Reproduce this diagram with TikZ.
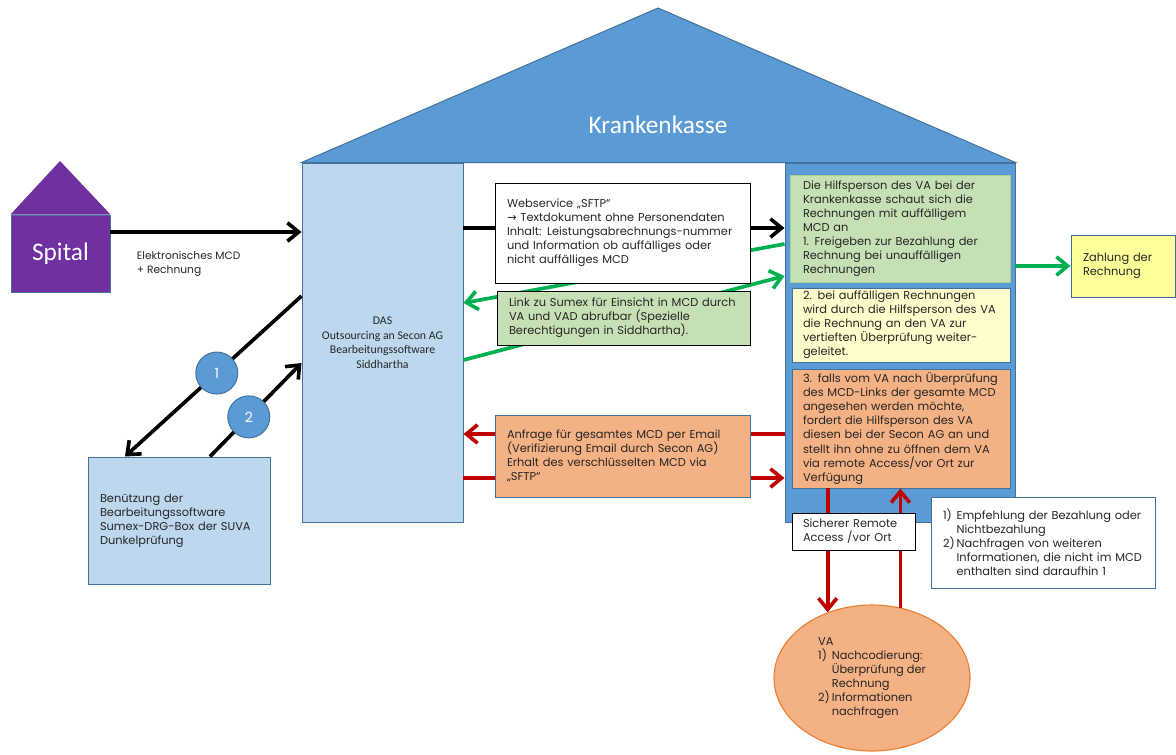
\documentclass[tikz,border=0pt]{standalone}
\usepackage{fontspec}
\setmainfont{Carlito}
\newfontfamily\gothic{Poppins}
\newfontfamily\symfont{DejaVu Sans}
\usetikzlibrary{positioning,calc,arrows.meta,shapes.geometric}
\definecolor{kkblue}{HTML}{5B9BD5}
\definecolor{kkline}{HTML}{41719C}
\definecolor{paleblue}{HTML}{BDD7EE}
\definecolor{spitalpurple}{HTML}{7030A0}
\definecolor{palegreen}{HTML}{C5E0B4}
\definecolor{greenline}{HTML}{A9D18E}
\definecolor{paleyellow}{HTML}{FFFDCC}
\definecolor{payyellow}{HTML}{FFFF99}
\definecolor{paleorange}{HTML}{F4B183}
\definecolor{orangeline}{HTML}{ED7D31}
\definecolor{arrowgreen}{HTML}{00B050}
\definecolor{arrowred}{HTML}{C00000}
\newcommand{\itemnum}[1]{\makebox[1.2em][l]{#1}}
\newcommand{\itemcont}{\hspace*{1.2em}}

\begin{document}
\begin{tikzpicture}[
  house/.style={draw=kkline, line width=0.7pt, inner sep=0pt},
  txt/.style={rectangle, line width=0.7pt, inner ysep=0pt, inner xsep=0.3cm,
              align=left, text=black!85, font=\gothic\fontsize{8.1}{10}\selectfont},
  whitebox/.style={txt, draw=black, fill=white},
  numcircle/.style={circle, fill=kkblue, draw=kkline, line width=0.7pt,
                    minimum size=1.05cm, inner sep=0pt, text=white,
                    font=\gothic\fontsize{10}{12}\selectfont},
  blackarrow/.style={line width=2.6pt, black, -{Straight Barb[length=2.8mm, width=4.6mm]}},
  greenarrow/.style={blackarrow, arrowgreen},
  redarrow/.style={blackarrow, arrowred},
]
\useasboundingbox (0,0) rectangle (29.4,-18.875);

% Spital
\node[house, fill=spitalpurple, minimum width=2.475cm, minimum height=1.925cm,
      text=white, font=\fontsize{18}{20}\selectfont] (spital) at (1.5125,-6.3375) {Spital};
\fill[spitalpurple] (spital.north west) -- (1.5,-4.025) -- (spital.north east) -- cycle;

% Krankenkasse: left wall (DAS), right column, roof
\node[house, fill=paleblue, minimum width=4.025cm, minimum height=8.975cm, align=center,
      text=black!85, font=\fontsize{8.4}{10.3}\selectfont] (das) at (9.5625,-8.5625)
  {DAS\\Outsourcing an Secon AG\\Bearbeitungssoftware\\Siddhartha};
\node[house, fill=kkblue, minimum width=5.75cm, minimum height=8.975cm] (col) at (22.5,-8.5625) {};
\filldraw[fill=kkblue, draw=kkline, line width=0.7pt]
  (das.north west) -- (16.45,-0.2) -- (col.north east) -- cycle;
\node[text=white, font=\fontsize{18}{20}\selectfont] (kk) at (16.45,-3.125) {Krankenkasse};

% Column boxes
\node[txt, draw=greenline, fill=palegreen, text width=4.85cm, minimum height=2.675cm,
      inner xsep=0.325cm] (hilfe) at (22.5,-5.7125)
  {Die Hilfsperson des VA bei der\\Krankenkasse schaut sich die\\Rechnungen mit auffälligem\\MCD an\\1. Freigeben zur Bezahlung der\\Rechnung bei unauffälligen\\Rechnungen};
\node[txt, draw=kkline, fill=paleyellow, text width=4.9cm, minimum height=1.85cm,
      inner xsep=0.275cm] (weiter) at (22.525,-8.125)
  {2. bei auffälligen Rechnungen\\wird durch die Hilfsperson des VA\\die Rechnung an den VA zur\\vertieften Überprüfung weiter-\\geleitet.};
\node[txt, draw=kkline, fill=paleorange, text width=4.9cm, minimum height=2.975cm,
      inner xsep=0.275cm] (anfordern) at (22.525,-10.7125)
  {3. falls vom VA nach Überprüfung\\des MCD-Links der gesamte MCD\\angesehen werden möchte,\\fordert die Hilfsperson des VA\\diesen bei der Secon AG an und\\stellt ihn ohne zu öffnen dem VA\\via remote Access/vor Ort zur\\Verfügung};

% Outside boxes
\node[txt, draw=kkline, fill=payyellow, text width=2.0cm, minimum height=1.55cm] (zahlung)
  at (28.075,-6.65) {Zahlung der\\Rechnung};
\node[txt, draw=kkline, fill=paleblue, text width=3.95cm, minimum height=3.175cm] (ben)
  at (4.475,-13.0125) {Benützung der\\Bearbeitungssoftware\\Sumex-DRG-Box der SUVA\\Dunkelprüfung};
\node[ellipse, fill=paleorange, draw=orangeline, line width=0.8pt, minimum width=4.9cm,
      minimum height=3.65cm, inner sep=0pt, align=left, text=black!85,
      font=\gothic\fontsize{8.1}{10}\selectfont] (va) at (21.8,-16.95)
  {VA\\\itemnum{1)}Nachcodierung:\\\itemcont Überprüfung der\\\itemcont Rechnung\\\itemnum{2)}Informationen\\\itemcont nachfragen};
\node[txt, draw=kkline, fill=white, text width=5.0cm, minimum height=2.275cm] (empf)
  at (26.075,-13.5625)
  {\itemnum{1)}Empfehlung der Bezahlung oder\\\itemcont Nichtbezahlung\\\itemnum{2)}Nachfragen von weiteren\\\itemcont Informationen, die nicht im MCD\\\itemcont enthalten sind daraufhin 1};

% Arrow levels
\coordinate (mcdrow) at (0,-5.8);
\coordinate (webrow) at (0,-5.7);
\coordinate (greenout) at (0,-6.1);
\coordinate (greenin) at (0,-7.575);
\coordinate (linkout) at (0,-9.0);
\coordinate (linkin) at (0,-6.9);
\coordinate (redout) at (0,-10.85);
\coordinate (redin) at (0,-11.95);
\coordinate (oneout) at (0,-7.4);
\coordinate (onein) at (3.125,0);
\coordinate (twoout) at (5.25,0);
\coordinate (twoin) at (0,-9.075);

% Connectors
\draw[blackarrow] (spital.east |- mcdrow) -- (das.west |- mcdrow);
\node[anchor=west, align=left, text=black!85, font=\gothic\fontsize{7.6}{10}\selectfont]
  (mcdlabel) at (3.3,-6.6) {Elektronisches MCD\\+ Rechnung};
\draw[blackarrow] (das.east |- webrow) -- (col.west |- webrow);
\draw[greenarrow] (col.west |- greenout) -- (das.east |- greenin);
\draw[greenarrow] (das.east |- linkout) -- (col.west |- linkin);
\draw[greenarrow] (col.east |- zahlung) -- (zahlung.west);
\draw[redarrow] (col.west |- redout) -- (das.east |- redout);
\draw[redarrow] (das.east |- redin) -- (col.west |- redin);
\draw[redarrow] (va.124 |- anfordern.south) -- (va.124);
\draw[redarrow] (va.68) -- (va.68 |- anfordern.south);
\draw[blackarrow] (das.west |- oneout) -- node[numcircle, pos=0.48] (one) {1} (ben.north -| onein);
\draw[blackarrow] (ben.north -| twoout) -- node[numcircle, pos=0.424] (two) {2} (das.west |- twoin);

% Boxes on the connectors
\node[whitebox, text width=5.775cm, minimum height=2.5cm] (web) at (15.5625,-5.825)
  {Webservice „SFTP“\\{\symfont →} Textdokument ohne Personendaten\\Inhalt: Leistungsabrechnungs-nummer\\und Information ob auffälliges oder\\nicht auffälliges MCD};
\node[whitebox, fill=palegreen, text width=5.725cm, minimum height=1.35cm] (link) at (15.5875,-7.95)
  {Link zu Sumex für Einsicht in MCD durch\\VA und VAD abrufbar (Spezielle\\Berechtigungen in Siddhartha).};
\node[txt, draw=kkline, fill=paleorange, text width=5.775cm, minimum height=2.05cm] (anfrage)
  at (15.5625,-11.4)
  {Anfrage für gesamtes MCD per Email\\(Verifizierung Email durch Secon AG)\\Erhalt des verschlüsselten MCD via\\„SFTP“};
\node[whitebox, text width=2.525cm, minimum height=0.925cm, inner xsep=0.275cm] (sicher)
  at (21.3375,-13.2875) {Sicherer Remote\\Access /vor Ort};

\end{tikzpicture}
\end{document}
